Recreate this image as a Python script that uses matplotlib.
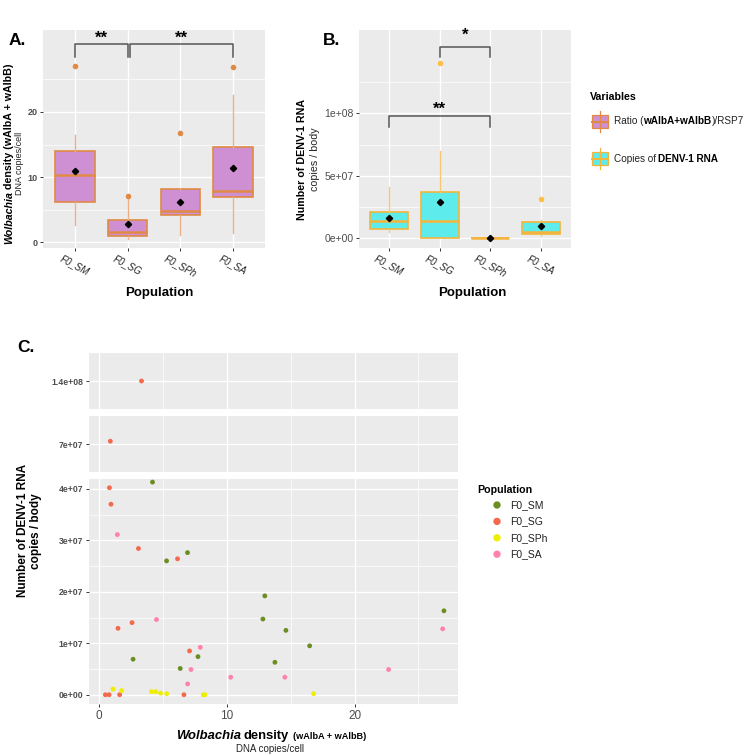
import matplotlib
matplotlib.use("Agg")
import matplotlib.pyplot as plt
import numpy as np
from matplotlib.patches import Rectangle

plt.rcParams['font.family'] = ['Liberation Sans', 'DejaVu Sans']

W, H = 756, 755

populations = ['F0_SM', 'F0_SG', 'F0_SPh', 'F0_SA']
pop_colors = ['#6B8E23', '#F4694B', '#EEEE00', '#FF82AB']

# one value per mosquito: Wolbachia density (DNA copies/cell) and DENV-1 RNA copies/body
sm_wol = [4.19, 6.93, 5.29, 12.98, 27.0, 12.83, 14.63, 16.49, 7.75, 2.67, 13.77, 6.36]
sm_denv = [4.13e7, 2.76e7, 2.60e7, 1.92e7, 1.63e7, 1.47e7, 1.25e7, 0.95e7, 0.74e7, 0.69e7, 0.63e7, 0.51e7]
sg_wol = [3.33, 0.89, 0.82, 0.94, 3.09, 6.15, 2.59, 1.49, 7.09, 0.50, 0.79, 1.62, 6.65]
sg_denv = [1.40e8, 7.02e7, 4.02e7, 3.70e7, 2.84e7, 2.64e7, 1.40e7, 1.29e7, 0.85e7, 0, 0, 0, 0]
sph_wol = [1.10, 1.78, 4.11, 4.45, 4.82, 5.31, 8.17, 8.30, 16.8]
sph_denv = [1.1e6, 0.8e6, 0.6e6, 0.6e6, 0.3e6, 0.2e6, 0, 0, 0.2e6]
sa_wol = [1.44, 4.50, 26.9, 7.93, 7.20, 22.67, 10.31, 14.55, 6.94]
sa_denv = [3.11e7, 1.46e7, 1.28e7, 0.92e7, 0.49e7, 0.49e7, 0.34e7, 0.34e7, 0.21e7]

wol = [sm_wol, sg_wol, sph_wol, sa_wol]
denv = [sm_denv, sg_denv, sph_denv, sa_denv]

fig = plt.figure(figsize=(W / 100, H / 100), dpi=100)


def px_axes(x0, y0, x1, y1):
    return fig.add_axes([x0 / W, 1 - y1 / H, (x1 - x0) / W, (y1 - y0) / H])


def gg_style(ax):
    ax.set_facecolor('#EBEBEB')
    for s in ax.spines.values():
        s.set_visible(False)
    ax.grid(True, which='major', color='white', lw=1.0)
    ax.grid(True, which='minor', color='white', lw=0.5)
    ax.set_axisbelow(True)
    ax.tick_params(which='major', length=2.5, width=0.7, color='#333333', pad=1.5)
    ax.tick_params(which='minor', length=0)


def box_panel(ax, data, fill, edge, whisk, flier):
    ax.boxplot(data, positions=range(1, 5), widths=0.75, patch_artist=True,
               showcaps=False, showmeans=True,
               meanprops=dict(marker='D', markerfacecolor='black', markeredgecolor='black', markersize=3.2),
               medianprops=dict(color=edge, lw=1.8),
               boxprops=dict(facecolor=fill, edgecolor=edge, lw=1.2),
               whiskerprops=dict(color=whisk, lw=1.0),
               flierprops=dict(marker='o', markerfacecolor=flier, markeredgecolor='none', markersize=4))
    ax.set_xlim(0.4, 4.6)
    ax.set_xticks(range(1, 5))
    ax.set_xticklabels(populations, rotation=-28, ha='center', fontstyle='italic',
                       fontsize=7, color='#222222')


def bracket(ax, x1, x2, top, leg, label, label_y):
    ax.plot([x1, x1, x2, x2], [leg, top, top, leg], color='#555555', lw=1.1, clip_on=False)
    ax.text((x1 + x2) / 2, label_y, label, ha='center', va='center', fontsize=12,
            fontweight='bold', clip_on=False)


# ---- panel A
axA = px_axes(43, 30, 265, 248)
gg_style(axA)
box_panel(axA, wol, '#CF8FD3', '#E08A44', '#EBB088', '#E08A44')
axA.set_ylim(-0.9, 32.6)
axA.set_yticks([0, 10, 20])
axA.set_yticks([5, 15, 25], minor=True)
axA.tick_params(axis='y', labelsize=6.5, labelcolor='#4D4D4D')
for t in axA.get_yticklabels():
    t.set_fontweight('bold')
bracket(axA, 1, 2, 30.5, 28.5, '**', 31.3)
bracket(axA, 2.04, 4, 30.5, 28.5, '**', 31.3)

# ---- panel B
axB = px_axes(359, 30, 571, 248)
gg_style(axB)
box_panel(axB, denv, '#5EEBEB', '#F5B43A', '#F8C870', '#FFBE45')
axB.set_ylim(-7.8e6, 1.666e8)
axB.set_yticks([0, 5e7, 1e8])
axB.set_yticklabels(['0e+00', '5e+07', '1e+08'])
axB.set_yticks([2.5e7, 7.5e7, 1.25e8], minor=True)
axB.tick_params(axis='y', labelsize=7.5, labelcolor='#4D4D4D')
bracket(axB, 2, 3, 1.533e8, 1.453e8, '*', 1.62e8)
bracket(axB, 1, 3, 9.8e7, 8.88e7, '**', 1.03e8)

# ---- panel C (three stacked pieces of the y axis)
cx0, cx1 = 89, 458
axC = px_axes(cx0, 479, cx1, 704)
axM = px_axes(cx0, 416, cx1, 472)
axT = px_axes(cx0, 353, cx1, 409)
for ax in (axC, axM, axT):
    gg_style(ax)
    for xs, ys, col in zip(wol, denv, pop_colors):
        ax.scatter(xs, ys, s=12, color=col, edgecolors='none', zorder=3)
    ax.set_xlim(-0.78, 28.1)
    ax.set_xticks([0, 10, 20])
    ax.set_xticks([5, 15, 25], minor=True)
    ax.tick_params(axis='y', labelsize=6.2, labelcolor='#4D4D4D')
for ax in (axM, axT):
    ax.tick_params(axis='x', length=0, labelbottom=False)
axC.tick_params(axis='x', labelsize=8.5, labelcolor='#4D4D4D')
axC.set_ylim(-1.8e6, 4.19e7)
axC.set_yticks([0, 1e7, 2e7, 3e7, 4e7])
axC.set_yticklabels(['0e+00', '1e+07', '2e+07', '3e+07', '4e+07'])
axC.set_yticks([0.5e7, 1.5e7, 2.5e7, 3.5e7], minor=True)
axM.set_ylim(6.8e7, 7.2e7)
axM.set_yticks([7e7])
axM.set_yticklabels(['7e+07'])
axT.set_ylim(1.38e8, 1.42e8)
axT.set_yticks([1.4e8])
axT.set_yticklabels(['1.4e+08'])
for ax in (axC, axM, axT):
    for t in ax.get_yticklabels():
        t.set_fontweight('bold')

# ---- overlay in pixel coordinates for labels and legends
ov = fig.add_axes([0, 0, 1, 1])
ov.set_xlim(0, W)
ov.set_ylim(H, 0)
ov.axis('off')

renderer = fig.canvas.get_renderer()


def rich(x, y, pieces, rotation=0):
    # pieces: (text, gap_before_px, text kwargs); centred on x (or y when rotated)
    objs, widths = [], []
    for s, gap, kw in pieces:
        t = ov.text(0, 0, s, ha='left', va='baseline', **kw)
        widths.append(gap + t.get_window_extent(renderer).width)
        objs.append((t, gap))
    pos = -sum(widths) / 2
    for (t, gap), w in zip(objs, widths):
        start = pos + gap
        if rotation == 90:
            t.set_rotation(90)
            t.set_rotation_mode('anchor')
            t.set_position((x, y - start))
        else:
            t.set_position((x + start, y))
        pos += w


B = dict(fontweight='bold', color='black')
BI = dict(fontweight='bold', fontstyle='italic', color='black')
N = dict(color='#222222')

ov.text(9, 45, 'A.', fontsize=12.5, fontweight='bold')
ov.text(323, 45, 'B.', fontsize=12.5, fontweight='bold')
ov.text(17, 352, 'C.', fontsize=12.5, fontweight='bold')

# panel A labels
rich(12.5, 154, [('Wolbachia', 0, dict(BI, fontsize=7.7)),
                 ('density (wAlbA + wAlbB)', 2.3, dict(B, fontsize=7.7))], rotation=90)
rich(22.5, 163, [('DNA copies/cell', 0, dict(N, fontsize=6.5))], rotation=90)
rich(159, 296, [('Population', 0, dict(B, fontsize=9.5))])

# panel B labels
rich(305, 159, [('Number of DENV-1 RNA', 0, dict(B, fontsize=7.7))], rotation=90)
rich(318, 159, [('copies / body', 0, dict(N, fontsize=7.7))], rotation=90)
rich(472, 296, [('Population', 0, dict(B, fontsize=9.5))])

# panel C labels
rich(26.5, 530, [('Number of DENV-1 RNA', 0, dict(B, fontsize=8.5))], rotation=90)
rich(39.5, 531, [('copies / body', 0, dict(B, fontsize=8.5))], rotation=90)
rich(271, 739, [('Wolbachia', 0, dict(BI, fontsize=9.4)),
                ('density', 2.7, dict(B, fontsize=9.4)),
                ('(wAlbA + wAlbB)', 4.0, dict(B, fontsize=6.6))])
rich(270, 751.5, [('DNA copies/cell', 0, dict(N, fontsize=7))])

# legend "Variables"
ov.text(590, 100, 'Variables', fontsize=7.7, fontweight='bold')
keys = [('#CF8FD3', '#E08A44', 108,
         [('Ratio (', 0, N), ('wAlbA+wAlbB', 0, B), (')/RSP7', 0, N)]),
        ('#5EEBEB', '#F5B43A', 145,
         [('Copies of', 0, N), ('DENV-1 RNA', 2.2, B)])]
for fill, edge, ky, lab in keys:
    kh = 27
    ov.plot([600, 600], [ky + 0.1 * kh, ky + 0.9 * kh], color=edge, lw=0.9)
    ov.add_patch(Rectangle((592, ky + 0.25 * kh), 16, 0.5 * kh, facecolor=fill, edgecolor=edge, lw=0.9))
    ov.plot([592, 608], [ky + 0.5 * kh, ky + 0.5 * kh], color=edge, lw=1.4)
    x = 614
    for s, g, kw in lab:
        t = ov.text(x + g, ky + kh / 2, s, ha='left', va='center', fontsize=7.2, **kw)
        x += g + t.get_window_extent(renderer).width

# legend "Population" for panel C
ov.text(477, 492.7, 'Population', fontsize=7.7, fontweight='bold')
for i, (name, col) in enumerate(zip(populations, pop_colors)):
    yy = 505 + i * 16.4
    ov.scatter([497], [yy], s=28, color=col, edgecolors='none')
    ov.text(510, yy, name, fontsize=7.5, va='center', color='#222222')

fig.savefig('out.png', dpi=100)
